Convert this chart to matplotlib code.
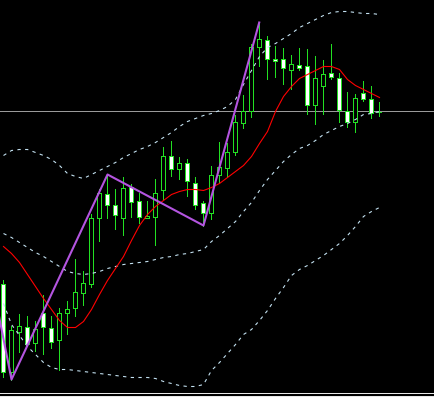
import matplotlib
matplotlib.use("Agg")
import matplotlib.pyplot as plt
from matplotlib.patches import Rectangle

# ---- data (price units) ----
opens  = [117, 29, 69, 74, 58, 88, 73, 61, 88, 93, 108, 117, 183, 207, 196, 183, 214, 200, 183, 184,
          211, 245, 232, 238, 218, 198, 188, 226, 233, 249, 278, 290, 354, 361, 342, 342, 331, 336, 335, 296,
          315, 328, 323, 290, 279, 308, 302, 289]
highs  = [121, 75, 87, 85, 80, 106, 85, 93, 100, 142, 130, 187, 212, 226, 212, 224, 217, 208, 200, 222,
          254, 260, 244, 242, 224, 200, 235, 259, 258, 286, 306, 357, 379, 365, 355, 353, 346, 353, 352, 345,
          341, 357, 328, 309, 307, 320, 315, 299]
lows   = [24, 21, 49, 55, 50, 47, 53, 31, 67, 85, 96, 114, 160, 183, 172, 166, 184, 178, 183, 156,
          202, 225, 222, 205, 192, 175, 182, 218, 224, 246, 273, 284, 335, 322, 324, 317, 312, 331, 287, 277,
          287, 322, 279, 274, 269, 300, 283, 285]
closes = [29, 71, 75, 57, 72, 74, 59, 88, 92, 109, 118, 183, 208, 196, 186, 213, 199, 184, 185, 208,
          245, 232, 238, 220, 196, 188, 226, 234, 249, 279, 290, 354, 362, 342, 340, 333, 337, 333, 296, 323,
          327, 324, 291, 279, 303, 302, 288, 289]

ma_red = [154, 147, 138, 126, 114, 102, 91, 80, 73, 73, 79, 91, 106, 120, 132, 144, 160, 175, 186, 194,
          200, 206, 209, 211, 211, 210, 213, 217, 223, 229, 235, 244, 257, 269, 289, 304, 314, 322, 326, 330,
          334, 334, 331, 321, 315, 311, 307, 303]

bb_upper = [245, 250, 251, 251, 248, 245, 241, 235, 227, 224, 222, 226, 230, 234, 238, 243, 247, 251, 254, 258,
            263, 268, 274, 279, 282, 285, 287, 290, 294, 301, 316, 330, 344, 353, 357, 362, 367, 373, 377, 381,
            385, 388, 389, 389, 388, 387, 387, 386]
bb_middle = [167, 163, 158, 153, 148, 144, 139, 134, 129, 127, 126, 127, 129, 132, 134, 136, 137, 138, 139, 141,
             143, 144, 146, 147, 149, 151, 159, 165, 172, 179, 189, 198, 210, 221, 230, 239, 246, 252, 255, 260,
             266, 270, 274, 277, 281, 286, 287, 289]
bb_lower = [97, 76, 65, 54, 46, 38, 33, 31, 31, 30, 29, 28, 27, 26, 25, 24, 23, 23, 23, 22,
            19, 17, 15, 14, 14, 16, 30, 38, 47, 56, 66, 71, 80, 90, 102, 113, 125, 131, 135, 140,
            145, 151, 157, 165, 174, 184, 189, 193]

zigzag_idx = [-1, 1, 13, 25, 32]
zigzag_val = [102, 21, 226, 175, 379]

price_line = 290
frame_lines = [8, 5]

# ---- style ----
GREEN = "#22e022"
PX = 0.72  # one pixel in points at dpi 100

fig = plt.figure(figsize=(4.35, 3.97), dpi=100, facecolor="black")
ax = fig.add_axes([0, 0, 1, 1], facecolor="black")
ax.set_xlim(-3.5 / 8, (435 - 3.5) / 8)
ax.set_ylim(3.5, 400.5)
ax.axis("off")

# horizontal price line and bottom frame
ax.axhline(price_line, color="#9a9a9a", lw=PX, zorder=1)
for y in frame_lines:
    ax.axhline(y, color="#e8e8e8", lw=PX, zorder=1)

# candles
for i, (o, h, l, c) in enumerate(zip(opens, highs, lows, closes)):
    ax.vlines(i, l, h, color=GREEN, lw=PX, zorder=2, antialiased=False)
    bottom = min(o, c)
    height = abs(c - o)
    face = "white" if c < o else "black"
    ax.add_patch(Rectangle((i - 0.25, bottom), 0.5, height, facecolor=face,
                           edgecolor=GREEN, lw=PX, zorder=3, antialiased=False))

idx = list(range(len(opens)))
dash = (0, (3, 4))
for band in (bb_upper, bb_middle, bb_lower):
    ax.plot(idx, band, color="#c4e2f2", lw=PX * 1.1, linestyle=dash, zorder=4)

ax.plot(idx, ma_red, color="#ff0000", lw=0.8, zorder=5)
ax.plot(zigzag_idx, zigzag_val, color="#b455e0", lw=1.5, zorder=6, solid_capstyle="butt")

fig.savefig("out.png", dpi=100, facecolor="black")
